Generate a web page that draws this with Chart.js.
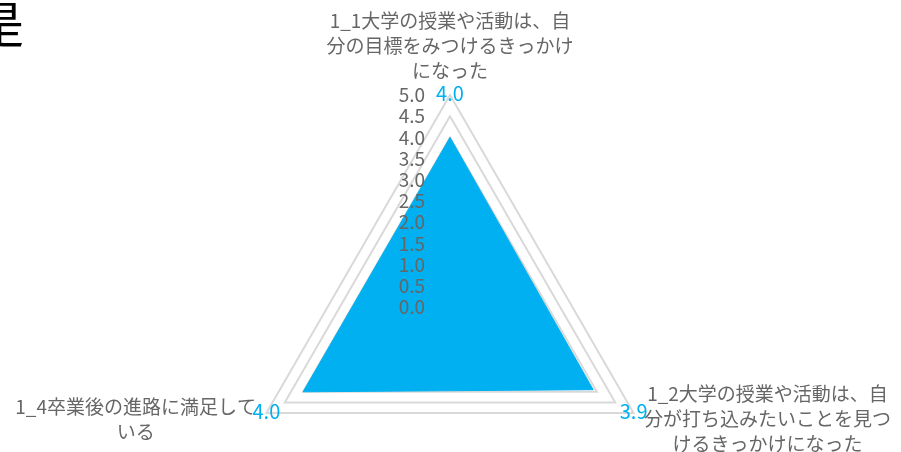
<!DOCTYPE html>
<html lang="ja">
<head>
<meta charset="utf-8">
<title>Radar</title>
<script src="https://cdn.jsdelivr.net/npm/chart.js@4.4.1/dist/chart.umd.min.js"></script>
<style>
    html, body { margin: 0; padding: 0; overflow: hidden; background: #fff; }
    #contenedor { position: relative; width: 901px; height: 560px; }
    #esquina { position: absolute; left: -26px; top: -4px; font: 50px "Noto Sans CJK JP"; line-height: 1; color: #000; }
</style>
</head>
<body>
<div id="contenedor">
    <canvas id="radarChart"></canvas>
    <div id="esquina">是</div>
</div>
<script>
// --- Datos ---
const categorias = [
    ['1_1大学の授業や活動は、自', '分の目標をみつけるきっかけ', 'になった'],
    ['1_2大学の授業や活動は、自', '分が打ち込みたいことを見つ', 'けるきっかけになった'],
    ['1_4卒業後の進路に満足して', 'いる']
];
const valores = [4.0, 3.9, 4.0];
const etiquetasEje = ['0.0', '0.5', '1.0', '1.5', '2.0', '2.5', '3.0', '3.5', '4.0', '4.5', '5.0'];

const azul = '#00B0F0';
const gris = '#666666';
const fuente = '"Noto Sans CJK JP", "Noto Sans", sans-serif';

// Textos del radar: escala, categorías y valores
const textosRadar = {
    id: 'textosRadar',
    afterDatasetsDraw(chart) {
        const r = chart.scales.r;
        const c = chart.ctx;
        c.save();
        c.font = '19px ' + fuente;

        // etiquetas de la escala
        c.fillStyle = gris;
        c.textAlign = 'right';
        c.textBaseline = 'middle';
        r.ticks.forEach(t => {
            c.fillText(t.label, r.xCenter - 25, r.yCenter - r.getDistanceFromCenterForValue(t.value));
        });

        // categorías
        const alto = 25;
        c.textAlign = 'center';
        categorias.forEach((lineas, i) => {
            const pos = r.getPointPosition(i, r.drawingArea + 12);
            const ang = r.getIndexAngle(i);
            const ancho = Math.max(...lineas.map(l => c.measureText(l).width));
            let x = pos.x, y;
            if (Math.abs(Math.sin(ang)) < 0.01) {
                y = pos.y - (lineas.length - 1) * alto - alto / 2;
            } else {
                x = Math.sin(ang) > 0 ? pos.x + ancho / 2 : pos.x - ancho / 2;
                y = pos.y - (lineas.length - 1) * alto / 2;
            }
            lineas.forEach((l, k) => c.fillText(l, x, y + k * alto));
        });

        // valores
        c.fillStyle = azul;
        c.font = '20px ' + fuente;
        valores.forEach((v, i) => {
            const pos = r.getPointPosition(i, r.drawingArea);
            c.fillText(v.toFixed(1), pos.x, pos.y - 2);
        });
        c.restore();
    }
};

const ctx = document.getElementById('radarChart').getContext('2d');
new Chart(ctx, {
    type: 'radar',
    data: {
        labels: categorias,
        datasets: [{
            data: valores,
            backgroundColor: azul,
            borderColor: azul,
            borderWidth: 1,
            pointRadius: 0,
            fill: true
        }]
    },
    options: {
        responsive: true,
        maintainAspectRatio: false,
        animation: false,
        layout: { padding: { top: 95, bottom: 41 } },
        plugins: { legend: { display: false }, tooltip: { enabled: false } },
        scales: {
            r: {
                min: 0,
                max: 5,
                ticks: { display: false, stepSize: 0.5, callback: (v, i) => etiquetasEje[i] },
                pointLabels: { display: false },
                angleLines: { display: false },
                grid: { color: '#d9d9d9', lineWidth: 2 }
            }
        }
    },
    plugins: [textosRadar]
});
</script>
</body>
</html>
